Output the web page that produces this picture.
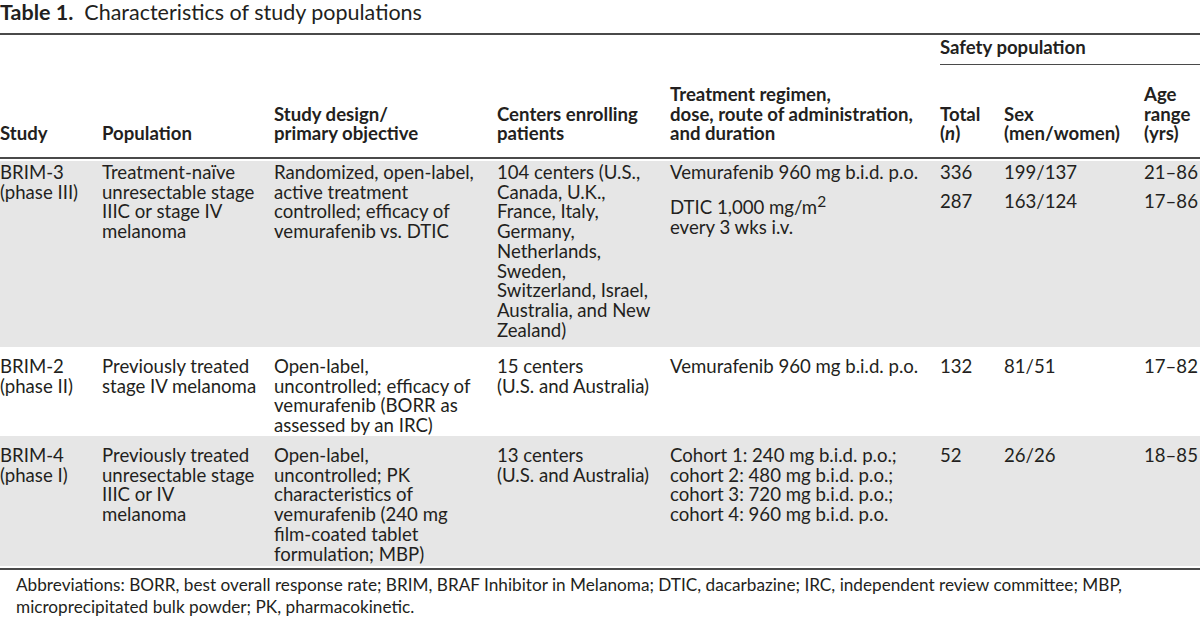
<!DOCTYPE html>
<html>
<head>
<meta charset="utf-8">
<script src="https://cdn.jsdelivr.net/npm/chart.js@4.4.1/dist/chart.umd.min.js"></script>
<style>
    body { margin: 0; width: 1200px; height: 618px; overflow: hidden; background: #fff;
           font-family: Lato, "Open Sans", sans-serif; color: #231f20; }
    #title { position: absolute; left: 0; top: 0; font-size: 21.5px; line-height: 25px; white-space: pre; }
    #title b { font-weight: bold; }
    table { position: absolute; left: 0; top: 33px; width: 1200px; border-collapse: separate;
            border-spacing: 0; table-layout: fixed; font-size: 18.6px; line-height: 19.7px; }
    td, th { padding: 0; white-space: nowrap; text-align: left; vertical-align: top;
             background-clip: padding-box; }
    thead tr.r1 td { border-top: 2px solid #4a4a4a; height: 25px; vertical-align: middle; padding-bottom: 4px; }
    thead tr.r1 td.safety { font-weight: bold; border-bottom: 1.5px solid #4a4a4a; }
    thead tr.r2 th { vertical-align: bottom; height: 79px; padding-bottom: 13px; border-bottom: 2px solid #4a4a4a; }
    tbody td { padding-top: 10px; }
    tbody tr.first td { padding-top: 2px; }
    tbody tr.shade td { background: #e6e6e6; }
    tbody tr.first td { border-top: 2px solid #fff; }
    tbody tr.last td { border-bottom: 2px solid #fff; }
    tfoot td { border-top: 2px solid #4a4a4a; padding: 4px 0 0 16px; font-size: 17.2px; line-height: 22px; white-space: normal; }
    .sub + .sub { margin-top: 9px; }
</style>
</head>
<body>
<div id="title"><b>Table 1.</b>  Characteristics of study populations</div>
<table id="tbl"></table>
<script>
// column headers (lines)
const headers = [
    ['Study'],
    ['Population'],
    ['Study design/', 'primary objective'],
    ['Centers enrolling', 'patients'],
    ['Treatment regimen,', 'dose, route of administration,', 'and duration'],
    ['Total', '(<i>n</i>)'],
    ['Sex', '(men/women)'],
    ['Age', 'range', '(yrs)']
];
const groupHeader = 'Safety population';

// row cells (lines per cell)
const studies = [
    ['BRIM-3', '(phase III)'],
    ['BRIM-2', '(phase II)'],
    ['BRIM-4', '(phase I)']
];
const populations = [
    ['Treatment-naïve', 'unresectable stage', 'IIIC or stage IV', 'melanoma'],
    ['Previously treated', 'stage IV melanoma'],
    ['Previously treated', 'unresectable stage', 'IIIC or IV', 'melanoma']
];
const designs = [
    ['Randomized, open-label,', 'active treatment', 'controlled; efficacy of', 'vemurafenib vs. DTIC'],
    ['Open-label,', 'uncontrolled; efficacy of', 'vemurafenib (BORR as', 'assessed by an IRC)'],
    ['Open-label,', 'uncontrolled; PK', 'characteristics of', 'vemurafenib (240 mg', 'film-coated tablet', 'formulation; MBP)']
];
const centers = [
    ['104 centers (U.S.,', 'Canada, U.K.,', 'France, Italy,', 'Germany,', 'Netherlands,', 'Sweden,', 'Switzerland, Israel,', 'Australia, and New', 'Zealand)'],
    ['15 centers', '(U.S. and Australia)'],
    ['13 centers', '(U.S. and Australia)']
];
// treatment arms: one entry per arm
const regimens = [
    [['Vemurafenib 960 mg b.i.d. p.o.'], ['DTIC 1,000 mg/m<sup>2</sup>', 'every 3 wks i.v.']],
    [['Vemurafenib 960 mg b.i.d. p.o.']],
    [['Cohort 1: 240 mg b.i.d. p.o.;', 'cohort 2: 480 mg b.i.d. p.o.;', 'cohort 3: 720 mg b.i.d. p.o.;', 'cohort 4: 960 mg b.i.d. p.o.']]
];
const totals = [[336, 287], [132], [52]];
const sexes = [['199/137', '163/124'], ['81/51'], ['26/26']];
const ageRanges = [['21–86', '17–86'], ['17–82'], ['18–85']];

const footnote = 'Abbreviations: BORR, best overall response rate; BRIM, BRAF Inhibitor in Melanoma; DTIC, dacarbazine; IRC, independent review committee; MBP, microprecipitated bulk powder; PK, pharmacokinetic.';

const colWidths = [102, 172, 223, 173, 270, 64, 140, 56];
const rowHeights = [188, 89, 132];
const rowShade = [true, false, true];

function lines(arr) {
    return arr.join('<br>');
}
function subs(arr) {
    return arr.map(a => '<div class="sub">' + lines([].concat(a)) + '</div>').join('');
}

let html = '<colgroup>' + colWidths.map(w => '<col style="width:' + w + 'px">').join('') + '</colgroup>';
html += '<thead><tr class="r1"><td colspan="5"></td><td colspan="3" class="safety">' + groupHeader + '</td></tr>';
html += '<tr class="r2">' + headers.map(h => '<th>' + lines(h) + '</th>').join('') + '</tr></thead>';
html += '<tbody>';
studies.forEach((s, i) => {
    let cls = [];
    if (rowShade[i]) cls.push('shade');
    if (i === 0) cls.push('first');
    if (i === studies.length - 1) cls.push('last');
    html += '<tr class="' + cls.join(' ') + '" style="height:' + rowHeights[i] + 'px">';
    html += '<td>' + lines(s) + '</td>';
    html += '<td>' + lines(populations[i]) + '</td>';
    html += '<td>' + lines(designs[i]) + '</td>';
    html += '<td>' + lines(centers[i]) + '</td>';
    html += '<td>' + subs(regimens[i]) + '</td>';
    html += '<td>' + subs(totals[i]) + '</td>';
    html += '<td>' + subs(sexes[i]) + '</td>';
    html += '<td>' + subs(ageRanges[i]) + '</td>';
    html += '</tr>';
});
html += '</tbody>';
html += '<tfoot><tr><td colspan="8">' + footnote + '</td></tr></tfoot>';

document.getElementById('tbl').innerHTML = html;
</script>
</body>
</html>
